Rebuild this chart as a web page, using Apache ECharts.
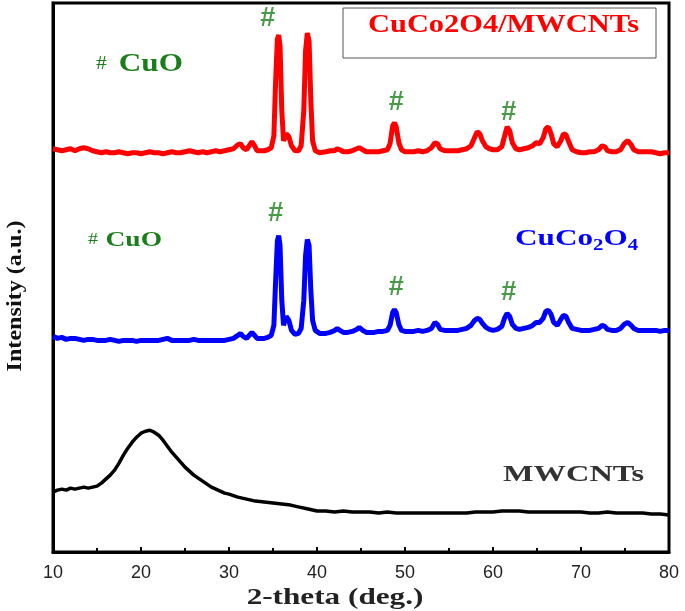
<!DOCTYPE html>
<html>
<head>
<meta charset="utf-8">
<script src="https://cdn.jsdelivr.net/npm/echarts@6/dist/echarts.min.js"></script>
<style>html,body{margin:0;padding:0;background:#fff;}#c{width:685px;height:611px;}</style>
</head>
<body>
<div id="c"></div>
<script>
// 2-theta sampling shared by the two oxide patterns
var theta = [10,10.5,11,11.5,12,12.5,13,13.5,14,14.5,15,15.5,16,16.5,17,17.5,18,18.5,19,19.5,
20,20.5,21,21.5,22,22.5,23,23.5,24,24.5,25,25.5,26,26.5,27,27.5,28,28.5,29,29.5,
30,30.5,31,31.3,31.6,32,32.3,32.6,32.9,33.2,33.6,34,34.4,34.8,35.1,35.3,35.5,35.65,35.8,36.0,
36.2,36.5,36.8,37.1,37.5,37.9,38.2,38.5,38.7,38.9,39.1,39.3,39.5,39.8,40.3,41,41.5,42,42.3,42.6,
43,43.5,44,44.5,44.8,45.2,45.6,46,46.5,47,47.5,48,48.3,48.6,48.8,49.0,49.3,49.6,50,50.5,
51,51.5,52,52.5,53,53.4,53.7,54,54.5,55,55.5,56,56.5,57,57.5,57.9,58.2,58.5,58.8,59.2,
59.6,60,60.5,61,61.3,61.6,61.9,62.2,62.6,63,63.5,64,64.5,64.9,65.3,65.7,66,66.3,66.6,66.9,
67.3,67.7,68.0,68.3,68.6,69,69.5,70,70.5,71,71.5,72,72.4,72.7,73,73.5,74,74.5,74.9,75.3,
75.7,76,76.5,77,77.5,78,78.5,79,79.5,80];
var compositeIntensity = [404,403,402,403,404,402,404,405,404,402,
401,400,401,400,400,401,400,399,400,400,
399,400,401,400,400,399,400,401,400,400,
401,402,401,400,401,400,401,402,401,402,
403,404,408,409,405,403,407,411,407,402,
402,402,403,405,417,472,514,518,507,442,
412,419,416,407,402,402,407,442,502,520,
512,452,412,402,400,401,402,402,404,403,
401,401,402,404,405,403,401,401,401,401,
402,403,409,427,430,426,410,403,401,401,
401,402,401,402,405,410,409,404,402,402,
402,402,403,404,407,415,421,419,412,406,
404,403,403,406,416,426,422,410,404,403,
404,405,407,410,409,415,424,426,419,409,
406,412,419,418,411,403,401,400,400,401,
401,403,407,406,402,401,401,403,409,412,
408,403,401,401,401,401,400,399,400,400];
var spinelIntensity = [216,214,215,213,214,214,213,212,213,213,
212,212,212,213,212,211,212,212,212,211,
212,212,212,212,212,213,214,212,212,212,
212,212,213,212,212,212,212,212,212,212,
213,214,217,219,216,214,217,220,217,214,
214,214,215,217,227,272,312,317,307,252,
227,236,232,222,218,219,224,252,297,313,
307,262,232,222,219,219,220,222,224,222,
220,220,221,223,225,222,220,220,220,221,
221,222,227,240,243,240,228,222,221,221,
221,222,221,222,224,230,228,223,222,222,
222,222,223,224,227,232,234,233,229,225,
223,222,223,226,234,239,236,228,224,223,
224,225,227,230,230,234,241,242,238,230,
227,233,237,236,230,224,223,222,222,222,
223,224,227,226,223,222,222,224,228,230,
227,224,222,222,222,222,222,221,222,222];
var thetaMW = [10,10.5,11,11.5,12,12.5,13,13.5,14,14.5,15,15.5,16,16.5,17,17.5,18,18.5,19,19.5,
20,20.5,21,21.5,22,22.5,23,23.5,24,24.5,25,25.5,26,26.5,27,27.5,28,28.5,29,29.5,30,
31,32,33,34,35,36,37,38,39,40,41,42,43,44,45,46,47,48,49,50,
51,52,53,54,55,56,57,58,59,60,61,62,63,64,65,66,67,68,69,70,
71,72,73,74,75,76,77,78,79,80];
var mwIntensity = [60,62,63,62,64,63,64,65,64,65,66,69,73,77,82,89,97,104,110,115,
119,121,122,120,117,112,106,100,95,90,85,81,77,74,71,68,65,63,61,59,58,
55,53,51,50,49,48,47,45,43,41,41,40,41,40,40,40,39,40,39,39,
39,39,39,39,39,39,39,40,40,40,41,41,41,40,40,40,40,40,40,40,
39,39,40,39,39,39,39,38,38,37];
var xTicks = [10,20,30,40,50,60,70,80];
// CuO peak markers (#): [theta, intensity]
var cuoMarksComposite = [[34.4,534],[49.0,450],[61.8,440]];
var cuoMarksSpinel = [[35.3,339],[49.0,265],[61.8,260]];

function pairs(xs, ys){ var o=[]; for(var i=0;i<xs.length;i++) o.push([xs[i],ys[i]]); return o; }

var chart = echarts.init(document.getElementById('c'));
var green = '#1a7f1a';
var serif = '"Liberation Serif","DejaVu Serif",serif';
function markSeries(d){
  return {type:'scatter', data:d, symbolSize:1, itemStyle:{color:'rgba(0,0,0,0)'}, silent:true, z:5,
    label:{show:true, position:'inside', formatter:'#', color:green, fontSize:27, fontWeight:'bold', fontFamily:'"Liberation Sans",Arial,sans-serif'}};
}
chart.setOption({
  animation:false,
  grid:{left:53, right:16, top:3, bottom:59, show:true, borderColor:'#000', borderWidth:3, outerBoundsMode:'none', containLabel:false},
  xAxis:{type:'value', min:10, max:80, interval:10,
    axisLine:{show:true, lineStyle:{color:'#000', width:3}},
    axisTick:{show:true, inside:true, length:5, lineStyle:{color:'#000', width:2}},
    minorTick:{show:true, splitNumber:2, length:4, lineStyle:{color:'#000', width:2}},
    splitLine:{show:false},
    axisLabel:{color:'#222', fontSize:18, margin:12, fontFamily:'"Liberation Sans",Arial,sans-serif',
      formatter:function(v){ return xTicks.indexOf(v)>=0 ? String(v) : ''; }}},
  yAxis:{type:'value', min:0, max:550,
    axisLine:{show:true, lineStyle:{color:'#000', width:3}},
    axisTick:{show:false}, axisLabel:{show:false}, splitLine:{show:false}},
  series:[
    {name:'CuCo2O4/MWCNTs', type:'line', data:pairs(theta, compositeIntensity), showSymbol:false,
      lineStyle:{color:'#ff0000', width:5}, itemStyle:{color:'#ff0000'}, z:3},
    {name:'CuCo2O4', type:'line', data:pairs(theta, spinelIntensity), showSymbol:false,
      lineStyle:{color:'#0000ff', width:5}, itemStyle:{color:'#0000ff'}, z:3},
    {name:'MWCNTs', type:'line', data:pairs(thetaMW, mwIntensity), showSymbol:false,
      lineStyle:{color:'#000', width:3.5}, itemStyle:{color:'#000'}, z:3},
    markSeries(cuoMarksComposite),
    markSeries(cuoMarksSpinel)
  ],
  graphic:[
    {type:'rect', shape:{x:343, y:8, width:313, height:50}, style:{fill:'#fff', stroke:'#555', lineWidth:1}, z:10},
    {type:'text', x:368, y:12, scaleX:1.17, z:11, style:{text:'CuCo2O4/MWCNTs', fill:'#ff0000', font:'bold 26px '+serif}},
    {type:'text', x:96, y:51, scaleX:1.2, z:11, style:{rich:{h:{fill:green, fontSize:18, fontFamily:serif}, t:{fill:green, fontSize:26, fontWeight:'bold', fontFamily:serif, padding:[0,0,0,10]}}, text:'{h|#}{t|CuO}'}},
    {type:'text', x:88, y:229, scaleX:1.25, z:11, style:{rich:{h:{fill:green, fontSize:16, fontFamily:serif}, t:{fill:green, fontSize:22, fontWeight:'bold', fontFamily:serif, padding:[0,0,0,6]}}, text:'{h|#}{t|CuO}'}},
    {type:'text', x:515, y:224, scaleX:1.3, z:11, style:{rich:{a:{fill:'#0000ff', fontSize:24, fontWeight:'bold', fontFamily:serif}, s:{fill:'#0000ff', fontSize:16, fontWeight:'bold', fontFamily:serif, padding:[14,0,0,0]}}, text:'{a|CuCo}{s|2}{a|O}{s|4}'}},
    {type:'text', x:503, y:463, scaleX:1.35, z:11, style:{text:'MWCNTs', fill:'#333', font:'bold 24px '+serif}},
    {type:'text', x:335, y:598, scaleX:1.3, z:11, style:{text:'2-theta (deg.)', fill:'#222', font:'bold 24px '+serif, textAlign:'center', textVerticalAlign:'middle'}},
    {type:'text', x:16, y:296, rotation:Math.PI/2, scaleX:1.15, z:11, style:{text:'Intensity (a.u.)', fill:'#111', font:'bold 21px '+serif, textAlign:'center', textVerticalAlign:'middle'}}
  ]
});
</script>
</body>
</html>
